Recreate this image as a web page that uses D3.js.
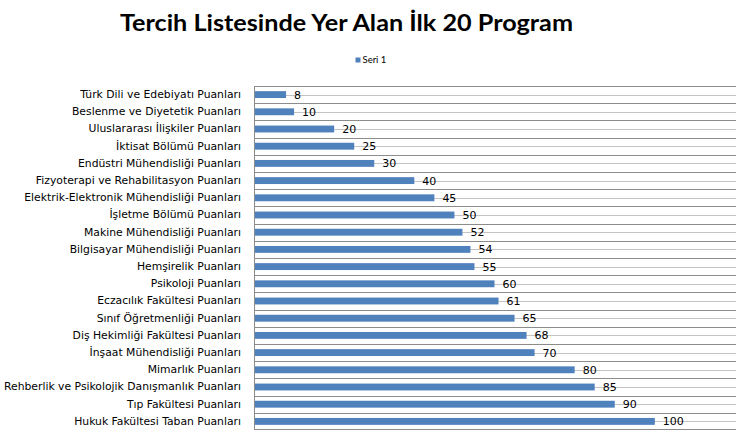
<!DOCTYPE html>
<html>
<head>
<meta charset="utf-8">
<script src="https://cdn.jsdelivr.net/npm/d3@7"></script>
<style>
  body { margin: 0; background: #fff; }
  svg { display: block; }
</style>
</head>
<body>
<script>
// Tercih listesi - horizontal bar chart
const categories = [
    'Türk Dili ve Edebiyatı Puanları',
    'Beslenme ve Diyetetik Puanları',
    'Uluslararası İlişkiler Puanları',
    'İktisat Bölümü Puanları',
    'Endüstri Mühendisliği Puanları',
    'Fizyoterapi ve Rehabilitasyon Puanları',
    'Elektrik-Elektronik Mühendisliği Puanları',
    'İşletme Bölümü Puanları',
    'Makine Mühendisliği Puanları',
    'Bilgisayar Mühendisliği Puanları',
    'Hemşirelik Puanları',
    'Psikoloji Puanları',
    'Eczacılık Fakültesi Puanları',
    'Sınıf Öğretmenliği Puanları',
    'Diş Hekimliği Fakültesi Puanları',
    'İnşaat Mühendisliği Puanları',
    'Mimarlık Puanları',
    'Rehberlik ve Psikolojik Danışmanlık Puanları',
    'Tıp Fakültesi Puanları',
    'Hukuk Fakültesi Taban Puanları'
];
const values = [8, 10, 20, 25, 30, 40, 45, 50, 52, 54, 55, 60, 61, 65, 68, 70, 80, 85, 90, 100];
const seriesName = 'Seri 1';
const title = 'Tercih Listesinde Yer Alan İlk 20 Program';

const width = 746, height = 440;
const margin = {top: 86, right: 10, bottom: 10, left: 254};

const svg = d3.select('body').append('svg')
    .attr('width', width)
    .attr('height', height);

const x = d3.scaleLinear()
    .domain([0, 120])
    .range([margin.left, 735]);

const y = d3.scaleBand()
    .domain(categories)
    .range([margin.top, 430])
    .paddingInner(0.6)
    .paddingOuter(0.3);

const step = y.step();

// gridlines: darker at category boundaries, lighter at centers
const grid = svg.append('g');
grid.selectAll('line.b')
    .data(d3.range(categories.length))
    .join('line')
    .attr('class', 'b')
    .attr('x1', margin.left).attr('x2', 736)
    .attr('y1', i => Math.round(margin.top + i * step) + 0.5)
    .attr('y2', i => Math.round(margin.top + i * step) + 0.5)
    .attr('stroke', '#8c8c8c')
    .attr('stroke-width', 1);
grid.selectAll('line.c')
    .data(categories)
    .join('line')
    .attr('class', 'c')
    .attr('x1', margin.left).attr('x2', 736)
    .attr('y1', d => Math.round(y(d) + y.bandwidth() / 2) + 0.5)
    .attr('y2', d => Math.round(y(d) + y.bandwidth() / 2) + 0.5)
    .attr('stroke', '#c4c4c4')
    .attr('stroke-width', 1);
// bottom line
svg.append('line')
    .attr('x1', margin.left).attr('x2', 736)
    .attr('y1', 429.5).attr('y2', 429.5)
    .attr('stroke', '#8c8c8c');

// bars
svg.append('g')
    .selectAll('rect')
    .data(values)
    .join('rect')
    .attr('x', x(0))
    .attr('y', (d, i) => y(categories[i]))
    .attr('width', d => x(d) - x(0))
    .attr('height', y.bandwidth())
    .attr('fill', '#4f81bd');

// value labels
svg.append('g')
    .selectAll('text')
    .data(values)
    .join('text')
    .attr('x', d => x(d) + 8)
    .attr('y', (d, i) => y(categories[i]) + y.bandwidth() / 2)
    .attr('dy', '0.36em')
    .attr('font-family', 'DejaVu Sans, Verdana, sans-serif')
    .attr('font-size', 11)
    .attr('fill', '#000')
    .text(d => d);

// category axis
const yAxis = svg.append('g')
    .attr('transform', `translate(${margin.left},0)`)
    .call(d3.axisLeft(y).tickSize(0).tickPadding(13));
yAxis.select('.domain')
    .attr('d', `M0.5,${margin.top}V430`)
    .attr('stroke', '#8c8c8c');
yAxis.selectAll('text')
    .attr('font-family', 'DejaVu Sans, Verdana, sans-serif')
    .attr('font-size', 10.8)
    .attr('fill', '#000');

// title
svg.append('text')
    .attr('x', 346.5)
    .attr('y', 31)
    .attr('text-anchor', 'middle')
    .attr('font-family', 'Lato, Open Sans, sans-serif')
    .attr('font-weight', 'bold')
    .attr('font-size', 22)
    .attr('textLength', 453)
    .attr('lengthAdjust', 'spacingAndGlyphs')
    .attr('fill', '#000')
    .text(title);

// legend
const legend = svg.append('g').attr('transform', 'translate(355.5,57.5)');
legend.append('rect')
    .attr('width', 5).attr('height', 5)
    .attr('fill', '#4f81bd');
legend.append('text')
    .attr('x', 7).attr('y', 2.5)
    .attr('dy', '0.35em')
    .attr('font-family', 'Lato, sans-serif')
    .attr('font-size', 9.5)
    .text(seriesName);
</script>
</body>
</html>
